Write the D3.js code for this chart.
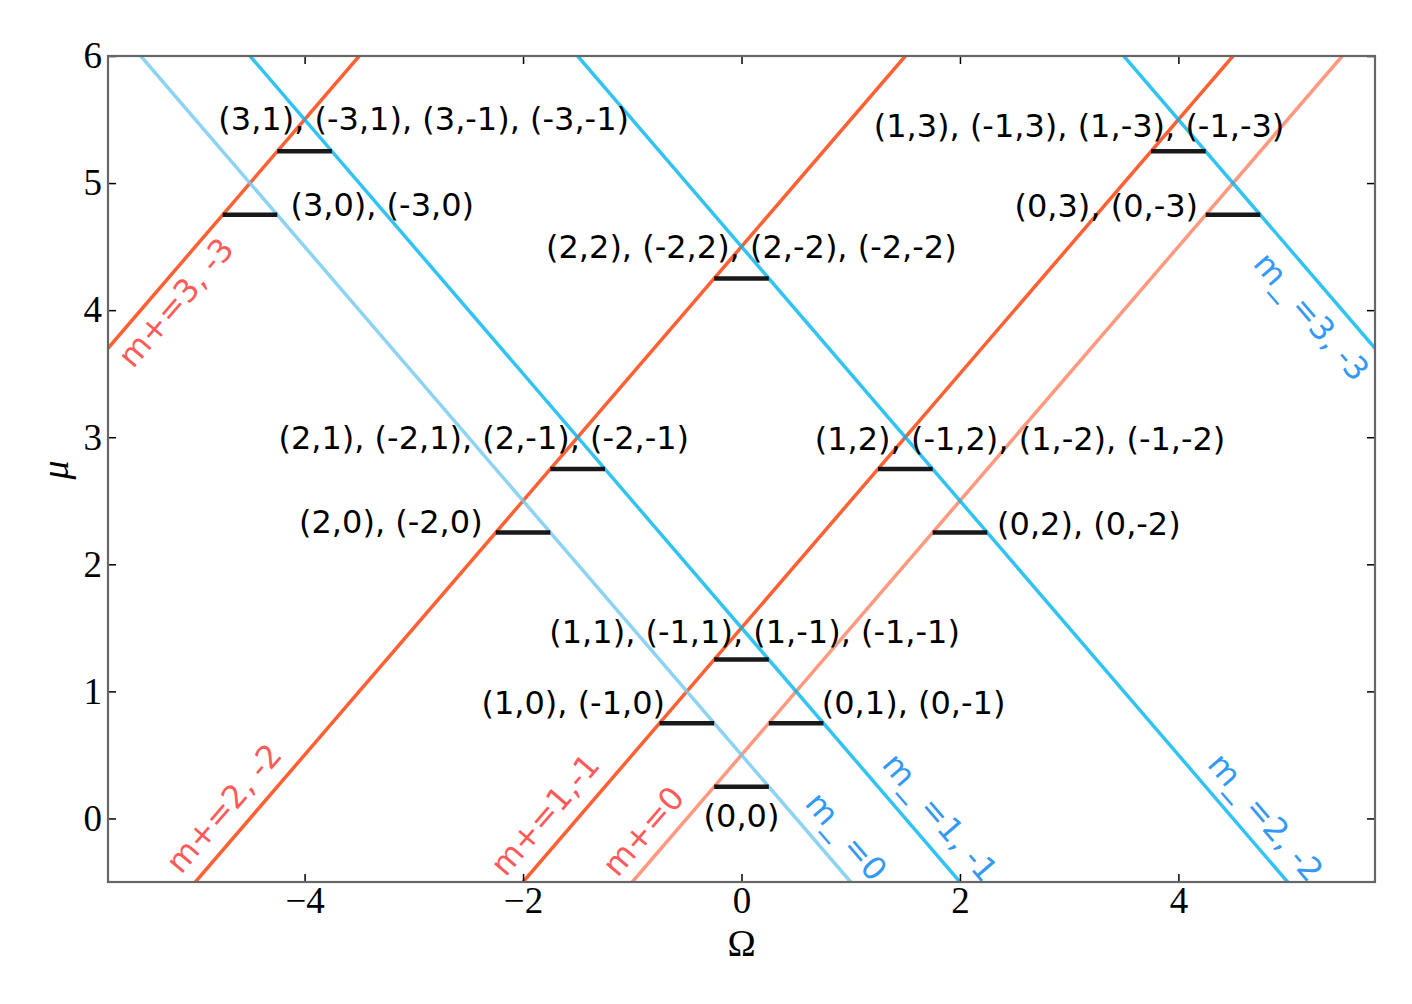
<!DOCTYPE html>
<html><head><meta charset="utf-8">
<script src="https://cdn.jsdelivr.net/npm/d3@7"></script>
<style>body{margin:0;background:#fff}</style>
</head><body>
<svg id="chart" width="1412" height="1004"></svg>
<script>
// ---------- data ----------
const xTicks = [-4, -2, 0, 2, 4];
const yTicks = [0, 1, 2, 3, 4, 5, 6];
const xDomain = [-5.8, 5.8];
const yDomain = [-0.5, 6];

// m+ lines: endpoints (Ω, μ)
const mPlusNames  = ["m+=0", "m+=1,-1", "m+=2, -2", "m+=3, -3"];
const mPlusStart  = [[-1, -0.5], [-2, -0.5], [-5, -0.5], [-5.8, 3.7]];
const mPlusEnd    = [[5.5, 6], [4.5, 6], [1.5, 6], [-3.5, 6]];
const mPlusLabelPos = [[-0.90, -0.10], [-1.80, 0.03], [-4.74, 0.08], [-5.18, 4.06]];

// m- lines: endpoints (Ω, μ)
const mMinusNames = ["m_ =0", "m_ =1, -1", "m_ =2, -2", "m_ =3, -3"];
const mMinusStart = [[-5.5, 6], [-4.5, 6], [-1.5, 6], [3.5, 6]];
const mMinusEnd   = [[1, -0.5], [2, -0.5], [5, -0.5], [5.8, 3.7]];
const mMinusLabelPos = [[0.96, -0.14], [1.82, 0.01], [4.80, 0.01], [5.22, 3.95]];

// energy levels (black segments)
const levelMu   = [0.25, 0.75, 0.75, 1.25, 2.25, 2.25, 2.75, 2.75, 4.25, 4.75, 4.75, 5.25, 5.25];
const levelFrom = [-0.25, -0.75, 0.25, -0.25, -2.25, 1.75, -1.75, 1.25, -0.25, -4.75, 4.25, -4.25, 3.75];
const levelTo   = [0.25, -0.25, 0.75, 0.25, -1.75, 2.25, -1.25, 1.75, 0.25, -4.25, 4.75, -3.75, 4.25];

// state labels
const stateText = ["(0,0)", "(1,0), (-1,0)", "(0,1), (0,-1)",
  "(1,1), (-1,1), (1,-1), (-1,-1)", "(2,0), (-2,0)", "(0,2), (0,-2)",
  "(2,1), (-2,1), (2,-1), (-2,-1)", "(1,2), (-1,2), (1,-2), (-1,-2)",
  "(2,2), (-2,2), (2,-2), (-2,-2)", "(3,0), (-3,0)", "(0,3), (0,-3)",
  "(3,1), (-3,1), (3,-1), (-3,-1)", "(1,3), (-1,3), (1,-3), (-1,-3)"];
const stateOmega = [0, -0.70, 0.735, 0.12, -2.37, 2.34, -2.36, 2.55, 0.09, -4.13, 4.18, -2.91, 3.09];
const stateMu    = [0.02, 0.91, 0.91, 1.475, 2.34, 2.32, 3.0, 2.99, 4.5, 4.83, 4.82, 5.51, 5.45];
const stateAnchor = ["middle", "end", "start", "middle", "end", "start", "middle", "middle", "middle", "start", "end", "middle", "middle"];

// ---------- drawing ----------
const L = 108, R = 1375, T = 56, B = 882;
const svg = d3.select("#chart");
const x = d3.scaleLinear().domain(xDomain).range([L, R]);
const y = d3.scaleLinear().domain(yDomain).range([B, T]);

svg.append("defs").append("clipPath").attr("id", "clip")
  .append("rect").attr("x", L).attr("y", T).attr("width", R - L).attr("height", B - T);

const plot = svg.append("g").attr("clip-path", "url(#clip)");
const line = d3.line().x(d => x(d[0])).y(d => y(d[1]));

const redCol = "#FF3A00", salmonCol = "#FF8060";
const blueCol = "#00B4F0", lightBlueCol = "#70C8F0";

mPlusStart.forEach((s, i) => {
  plot.append("path").attr("d", line([s, mPlusEnd[i]]))
    .attr("stroke", i === 0 ? salmonCol : redCol).attr("stroke-width", 3.5)
    .attr("stroke-opacity", 0.8).attr("fill", "none");
});
mMinusStart.forEach((s, i) => {
  plot.append("path").attr("d", line([s, mMinusEnd[i]]))
    .attr("stroke", i === 0 ? lightBlueCol : blueCol).attr("stroke-width", 3.5)
    .attr("stroke-opacity", 0.8).attr("fill", "none");
});

levelMu.forEach((m, i) => {
  plot.append("path").attr("d", line([[levelFrom[i], m], [levelTo[i], m]]))
    .attr("stroke", "#000").attr("stroke-width", 4.5).attr("stroke-opacity", 0.9);
});

// angle of the lines in screen space
const angUp = Math.atan2(y(0) - y(1), x(1) - x(0)) * 180 / Math.PI;

const sansFont = "DejaVu Sans, sans-serif";
const fs = 32;

mPlusNames.forEach((t, i) => {
  const px = x(mPlusLabelPos[i][0]), py = y(mPlusLabelPos[i][1]);
  svg.append("text").text(t)
    .attr("transform", `translate(${px},${py}) rotate(${-angUp})`)
    .attr("text-anchor", "middle").attr("dy", "0.35em")
    .attr("font-family", sansFont).attr("font-size", fs).attr("fill", "#FF5A5A");
});
mMinusNames.forEach((t, i) => {
  const px = x(mMinusLabelPos[i][0]), py = y(mMinusLabelPos[i][1]);
  svg.append("text").text(t)
    .attr("transform", `translate(${px},${py}) rotate(${angUp})`)
    .attr("text-anchor", "middle").attr("dy", "0.35em")
    .attr("font-family", sansFont).attr("font-size", fs).attr("fill", "#3399F5");
});

stateText.forEach((t, i) => {
  svg.append("text").text(t)
    .attr("x", x(stateOmega[i])).attr("y", y(stateMu[i]))
    .attr("dy", "0.36em").attr("text-anchor", stateAnchor[i])
    .attr("font-family", sansFont).attr("font-size", fs).attr("fill", "#000");
});

// axes
const serif = "Liberation Serif, Times New Roman, serif";
const fmt = d => d < 0 ? "\u2212" + Math.abs(d) : String(d);
const tickLen = 8;

const xAxisB = d3.axisBottom(x).tickValues(xTicks).tickSize(-tickLen).tickPadding(5).tickFormat(fmt);
const xAxisT = d3.axisTop(x).tickValues(xTicks).tickSize(-tickLen).tickFormat("");
const yAxisL = d3.axisLeft(y).tickValues(yTicks).tickSize(-tickLen).tickPadding(6).tickFormat(fmt);
const yAxisR = d3.axisRight(y).tickValues(yTicks).tickSize(-tickLen).tickFormat("");

function styleAxis(g) {
  g.select(".domain").remove();
  g.selectAll(".tick line").attr("stroke", "#000").attr("stroke-width", 1.5);
  g.selectAll(".tick text").attr("font-family", serif).attr("font-size", 37).attr("fill", "#000");
}
svg.append("g").attr("transform", `translate(0,${B})`).call(xAxisB).call(styleAxis);
svg.append("g").attr("transform", `translate(0,${T})`).call(xAxisT).call(styleAxis);
svg.append("g").attr("transform", `translate(${L},0)`).call(yAxisL).call(styleAxis);
svg.append("g").attr("transform", `translate(${R},0)`).call(yAxisR).call(styleAxis);

svg.append("rect").attr("x", L).attr("y", T).attr("width", R - L).attr("height", B - T)
  .attr("fill", "none").attr("stroke", "#666").attr("stroke-width", 2.2);

svg.append("text").text("\u03A9").attr("x", (L + R) / 2).attr("y", 956)
  .attr("text-anchor", "middle").attr("font-family", serif).attr("font-size", 38).attr("fill", "#000");
svg.append("text").text("\u03BC")
  .attr("transform", `translate(68,470) rotate(-90)`)
  .attr("text-anchor", "middle").attr("font-family", serif).attr("font-style", "italic")
  .attr("font-size", 38).attr("fill", "#000");
</script>
</body></html>
